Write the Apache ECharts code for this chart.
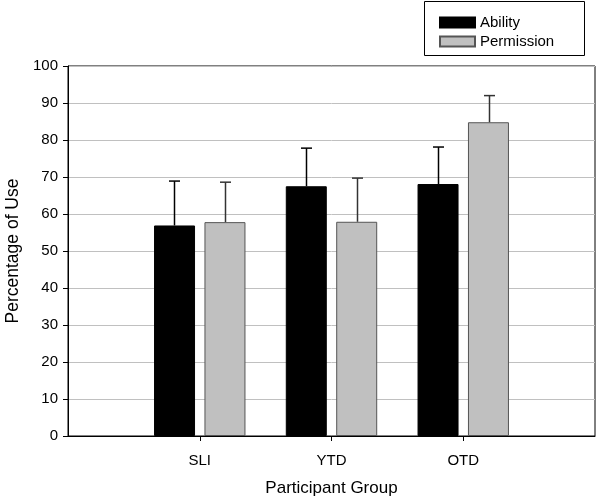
<!DOCTYPE html>
<html><head><meta charset="utf-8">
<script src="https://cdn.jsdelivr.net/npm/echarts@6/dist/echarts.min.js"></script>
<style>html,body{margin:0;padding:0;background:#fff}#c{width:600px;height:499px}</style>
</head><body><div id="c"></div>
<script>
var categories = ['', 'SLI', 'YTD', 'OTD', ''];
var abilityMean = [null, 56.9, 67.5, 68.1, null];
var abilityUpper = [null, 68.9, 77.8, 78.1, null];
var permissionMean = [null, 57.8, 57.9, 84.8, null];
var permissionUpper = [null, 68.6, 69.7, 92.0, null];
var yTicks = [0, 10, 20, 30, 40, 50, 60, 70, 80, 90, 100];

var font = 'Liberation Sans, Arial, sans-serif';
var chart = echarts.init(document.getElementById('c'));

function errData(mean, upper) {
  var out = [];
  for (var i = 0; i < mean.length; i++) if (mean[i] != null) out.push([i, mean[i], upper[i]]);
  return out;
}
function errSeries(mean, upper, offset, color) {
  return {
    type: 'custom', z: 5, silent: true,
    data: errData(mean, upper),
    renderItem: function (params, api) {
      var p0 = api.coord([api.value(0), api.value(1)]);
      var p1 = api.coord([api.value(0), api.value(2)]);
      var x = Math.round(p0[0] + offset) + 0.5;
      var st = { stroke: color, lineWidth: 1.5 };
      return { type: 'group', children: [
        { type: 'line', shape: { x1: x, y1: p0[1], x2: x, y2: p1[1] }, style: st },
        { type: 'line', shape: { x1: x - 5.5, y1: p1[1], x2: x + 5.5, y2: p1[1] }, style: st }
      ]};
    }
  };
}

chart.setOption({
  animation: false,
  grid: { left: 68, right: 5, top: 66, bottom: 63, containLabel: false, outerBoundsMode: 'none',
    show: true, borderColor: '#000', borderWidth: 1, backgroundColor: 'transparent' },
  legend: {
    data: ['Ability', 'Permission'], orient: 'vertical', left: 434, top: 10,
    itemWidth: 35, itemHeight: 10, itemGap: 4, icon: 'rect',
    textStyle: { fontFamily: font, fontSize: 15, color: '#000' }
  },
  graphic: [{ type: 'rect', shape: { x: 424.5, y: 1.5, width: 160, height: 54 }, style: { fill: 'none', stroke: '#000', lineWidth: 1 } }],
  xAxis: {
    type: 'category', data: categories, boundaryGap: false,
    name: 'Participant Group', nameLocation: 'middle', nameGap: 44,
    nameTextStyle: { fontFamily: font, fontSize: 17, color: '#000' },
    axisLine: { lineStyle: { color: '#000', width: 1 } },
    axisTick: { length: 5, lineStyle: { color: '#000' }, interval: function (i) { return i > 0 && i < categories.length - 1; } },
    axisLabel: { fontFamily: font, fontSize: 15, color: '#000', margin: 17, interval: 0 },
    splitLine: { show: false }
  },
  yAxis: {
    type: 'value', min: 0, max: 100, interval: 10,
    name: 'Percentage of Use', nameLocation: 'middle', nameGap: 45, nameRotate: 90,
    nameTextStyle: { fontFamily: font, fontSize: 17.5, color: '#000' },
    axisLine: { show: true, lineStyle: { color: '#000', width: 1 } },
    axisTick: { show: true, length: 5, lineStyle: { color: '#000' } },
    axisLabel: { fontFamily: font, fontSize: 15, color: '#000', margin: 10,
      formatter: function (v) { return yTicks.indexOf(v) >= 0 ? String(v) : ''; } },
    splitLine: { lineStyle: { color: '#c0c0c0', width: 1 } }
  },
  series: [
    { name: 'Ability', type: 'bar', data: abilityMean, barWidth: 41, barGap: '23%',
      itemStyle: { color: '#000', borderColor: '#000', borderWidth: 1 } },
    { name: 'Permission', type: 'bar', data: permissionMean, barWidth: 41,
      itemStyle: { color: '#c0c0c0', borderColor: '#555', borderWidth: 1 } },
    errSeries(abilityMean, abilityUpper, -25.7, '#000'),
    errSeries(permissionMean, permissionUpper, 25.7, '#333')
  ]
});
</script></body></html>
